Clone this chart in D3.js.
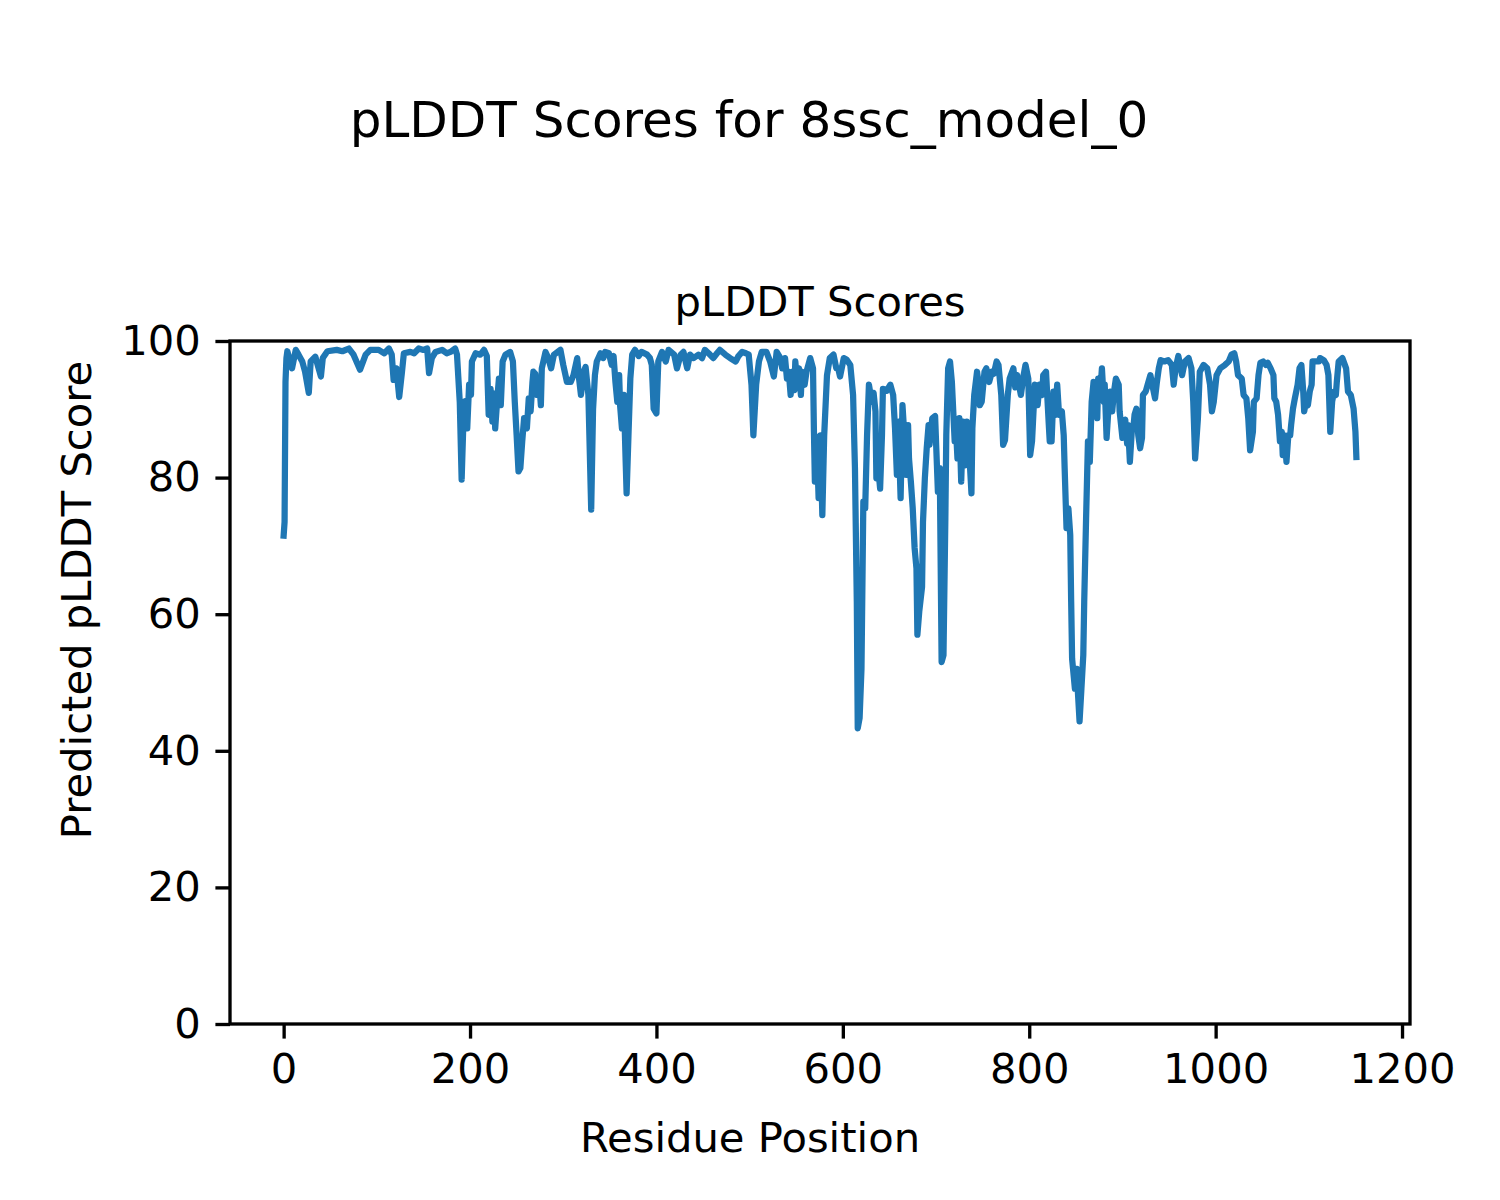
<!DOCTYPE html>
<html><head><meta charset="utf-8">
<script src="https://cdn.jsdelivr.net/npm/d3@7"></script>
<style>body{margin:0;background:#fff}svg{display:block}text{font-family:"DejaVu Sans",sans-serif;fill:#000}</style>
</head><body><svg id="c" width="1500" height="1200"></svg>
<script>
const figTitle = "pLDDT Scores for 8ssc_model_0";
const axTitle = "pLDDT Scores";
const xLabel = "Residue Position";
const yLabel = "Predicted pLDDT Score";
const xTicks = [0,200,400,600,800,1000,1200];
const yTicks = [0,20,40,60,80,100];
const residues = [0,1,2,3,4,7,9,13,16,20,23,27,29,34,40,42,47,57,63,70,75,82,88,93,102,108,113,116,118,121,124,127,129,136,140,145,150,154,156,159,163,170,175,179,184,186,189,191,193,195,197,199,201,202,206,211,215,218,220,222,224,226,227,229,231,233,235,238,243,246,248,250,252,254,256,258,261,263,265,267,268,270,272,274,276,277,281,284,287,290,297,300,304,308,311,315,317,319,322,324,327,330,332,334,336,340,343,345,349,352,354,356,358,360,361,363,365,367,368,370,372,374,377,381,384,390,393,395,397,400,402,406,410,413,419,422,426,429,433,436,440,445,449,452,456,461,465,468,474,479,485,488,492,496,499,502,504,507,510,513,518,522,526,529,533,535,538,540,542,544,546,548,549,551,553,555,556,559,561,565,568,569,570,572,574,576,578,580,583,586,590,593,595,597,601,604,608,611,613,615,616,618,620,622,624,626,628,631,633,635,636,638,640,642,643,647,651,654,656,658,660,661,662,664,666,668,670,671,673,675,677,679,680,682,685,686,688,690,692,693,696,699,702,704,706,708,710,711,713,715,717,720,721,723,725,727,729,731,733,735,738,739,741,744,745,747,749,752,754,757,760,762,765,767,770,772,774,777,779,783,785,787,789,791,794,796,799,801,803,806,809,811,814,815,818,821,822,824,826,828,830,832,835,837,838,840,842,844,845,846,847,849,851,852,854,856,858,859,861,863,865,867,869,871,873,874,876,878,880,881,883,885,887,889,891,893,896,897,900,903,905,906,908,910,912,913,915,917,919,921,922,925,927,930,932,935,937,939,941,945,949,953,955,957,960,964,967,971,974,976,978,981,983,987,991,994,996,998,1001,1005,1010,1014,1017,1020,1022,1024,1028,1030,1033,1035,1037,1040,1041,1044,1046,1048,1051,1054,1056,1059,1062,1063,1065,1067,1069,1071,1072,1074,1076,1078,1080,1081,1083,1085,1088,1090,1092,1094,1095,1097,1099,1101,1103,1104,1107,1111,1112,1116,1119,1121,1123,1125,1127,1129,1130,1132,1136,1140,1142,1145,1148,1150,1151];
const scores = [71.5,73.5,94,97.5,98.5,97,96,98.7,98,97,95.5,92.4,97,97.7,94.8,97.5,98.5,98.7,98.5,98.9,98,95.8,98,98.7,98.7,98.2,98.9,98,94.3,96,91.8,95.5,98.2,98.4,98.2,98.9,98.7,98.9,95.3,97.5,98.4,98.7,98.2,98.4,98.9,98,91,79.7,88.7,91.2,87.2,93.6,92.1,97,98.2,98,98.7,97.8,89.2,93,88.2,92.3,87.2,91.1,94.5,90.6,97,98,98.4,97,91.1,86.2,80.9,81.4,85.3,88.7,87.2,91.6,89.7,94,95.5,95.2,92.1,94.5,90.6,96,98.4,97.5,96,98,98.7,96.5,94,94,95,97.5,94.5,92.1,95.5,96.2,92.1,75.3,90,95,97,98.2,97.5,98.4,98.2,96.5,97.8,94,91.1,95,90.6,87.2,92.1,82.3,77.7,86.2,94.5,98,98.7,97.8,98.4,98,97.5,96.5,90.1,89.4,97,98.4,97,98.7,98,96,98,98.4,96,98,97.5,98,97.5,98.7,98.2,97.5,98.2,98.7,98,97.5,97,97.8,98.4,98.2,98,93.6,86.2,93.6,97,98.4,98.4,97,94.8,98.4,97.5,96,97.5,94.5,95.5,92.1,95.5,92.8,97,94,96,92.1,95.5,93.6,95.5,97.5,96,86.7,79.4,86,77,86.2,74.5,86.2,95,97.5,98,96,96,94.8,97.5,97.3,96.5,92.1,81.4,61.8,43.3,44.8,52,76.5,75.5,86.2,93.6,91.1,92.4,89.7,79.9,81.4,78.4,86.2,93,92.7,93.6,92.1,87.2,80.4,88.2,81.4,77,90.6,86.2,80.4,87.7,82.8,79.4,75.5,69.7,66.7,57,60.4,64,73.5,79.9,84.3,87.7,84.8,88.7,89,77.9,81.4,53,54,74,86.2,96,97,94,85.3,88.2,82.8,88.7,79.4,88.2,81.8,88.2,85.3,77.7,87.2,92.1,95.5,94.5,90.6,91.1,95.5,96,94,95.5,95.2,97,96.5,92.1,84.8,85.5,92.1,94.5,96,93.2,95,93.6,92.1,95,96.5,94.5,83.3,85.3,93.6,90.6,93.6,92.1,95,95.5,87.7,85.3,85.3,92.6,89.2,93.6,89.2,89.7,86.2,81.4,72.6,75.5,71.6,61.8,53.5,52,49.1,52,49.1,44.3,49.1,54,61.8,74,85.3,82.3,91.1,94,92.1,88.7,94.5,92.1,96,91.1,93.6,85.8,90.1,92.6,89.7,92.6,94.5,93.6,89.7,85.8,88.5,85,87.7,82.3,86.7,87.7,89.2,90.1,86.2,84.3,85.8,92.1,92.6,93.6,95,93.6,91.6,94,96,97.2,97,97.2,96.5,93.6,96,97.8,95,97,97.5,96,91.1,82.8,88.7,95.5,96.5,96,93.6,89.7,91.1,95,96,96.5,97,98,98.2,97,95,94.5,92.1,91.6,88.7,84,86.7,91.1,91.6,95,96.8,97,96.5,96.8,96,95,91.6,91.1,89.2,85.3,86.7,83.3,86.2,82.3,86.2,86.2,87.7,90.1,91.6,93.6,96,96.5,92.6,89.7,91.1,90.6,92.6,93.6,97,97,97,97.5,97.2,96.5,95,86.7,91.1,92.6,92.1,94,97,97.5,96,92.6,92.1,90.1,86.7,83];

const svg = d3.select("#c");
svg.append("rect").attr("width",1500).attr("height",1200).attr("fill","#fff");
const L=230,R=1410,T=341,B=1024;
const x = d3.scaleLinear().domain([-57.55,1208.55]).range([L,R]);
const y = d3.scaleLinear().domain([0,100]).range([B,T]);
const fs = 41.7;

const data = residues.map((r,i)=>({r, v:scores[i]}));
const line = d3.line().x(d=>x(d.r)).y(d=>y(d.v));
svg.append("path").datum(data).attr("d",line).attr("fill","none")
  .attr("stroke","#1f77b4").attr("stroke-width",6.25)
  .attr("stroke-linejoin","round").attr("stroke-linecap","square");

const xAxis = d3.axisBottom(x).tickValues(xTicks).tickSize(14.6).tickPadding(14.6).tickFormat(d3.format("d"));
const gx = svg.append("g").attr("transform",`translate(0,${B})`).call(xAxis);
const yAxis = d3.axisLeft(y).tickValues(yTicks).tickSize(14.6).tickPadding(14.6).tickFormat(d3.format("d"));
const gy = svg.append("g").attr("transform",`translate(${L},0)`).call(yAxis);
[gx,gy].forEach(g=>{
  g.select(".domain").remove();
  g.selectAll(".tick line").attr("stroke","#000").attr("stroke-width",3.33);
  g.selectAll(".tick text").attr("font-size",fs).attr("font-family","DejaVu Sans").attr("fill","#000");
});
svg.append("rect").attr("x",L).attr("y",T).attr("width",R-L).attr("height",B-T)
  .attr("fill","none").attr("stroke","#000").attr("stroke-width",3.33);

svg.append("text").attr("x",749).attr("y",137).attr("text-anchor","middle").attr("font-size",50).text(figTitle);
svg.append("text").attr("x",(L+R)/2).attr("y",316).attr("text-anchor","middle").attr("font-size",fs).text(axTitle);
svg.append("text").attr("x",750).attr("y",1152).attr("text-anchor","middle").attr("font-size",fs).text(xLabel);
svg.append("text").attr("transform","translate(91,600) rotate(-90)").attr("text-anchor","middle").attr("font-size",fs).text(yLabel);
</script></body></html>
